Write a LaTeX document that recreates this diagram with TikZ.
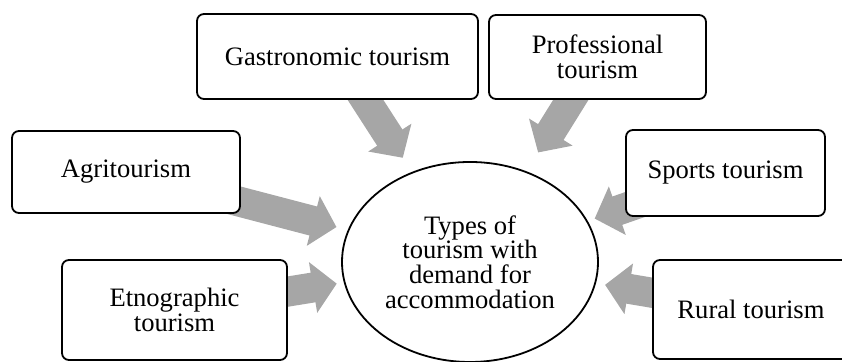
\documentclass[tikz,border=0pt]{standalone}
\usepackage{fontspec}
\setmainfont{Liberation Serif}
\usetikzlibrary{shapes.geometric,arrows.meta,backgrounds}
\definecolor{arrowgray}{HTML}{A6A6A6}

\begin{document}
\begin{tikzpicture}[x=0.5pt,y=-0.5pt]
		\tikzstyle{every node}=[font=\fontsize{13.3}{12.3}\selectfont, align=center]
		\tikzstyle{box}=[draw, line width=0.9pt, rounded corners=3.5pt, fill=white]
		\tikzstyle{bigarrow}=[color=arrowgray, line width=15pt, -{Triangle[width=25pt,length=12pt]}]
		\useasboundingbox (0,0) rectangle (842,362);
		\node (Hub)[ellipse, draw, line width=0.9pt, inner sep=0pt, minimum width=128pt, minimum height=100pt] at (470,262) {Types of\\tourism with\\demand for\\accommodation};
		\node (Gastro)[box, minimum width=140.5pt, minimum height=42.5pt] at (337.5,56.5) {Gastronomic tourism};
		\node (Prof)[box, minimum width=108.5pt, minimum height=42pt] at (597.5,57) {Professional\\tourism};
		\node (Agri)[box, minimum width=114pt, minimum height=41pt] at (126,172) {Agritourism};
		\node (Sports)[box, minimum width=99.5pt, minimum height=43pt] at (725.5,173) {Sports tourism};
		\node (Etno)[box, minimum width=112.5pt, minimum height=50pt] at (174.5,310) {Etnographic\\tourism};
		\node (Rural)[box, minimum width=98pt, minimum height=49.5pt] at (751,309.5) {Rural tourism};
		\begin{scope}[on background layer]
			\draw[bigarrow, shorten >=62pt] (Gastro.center) -- (Hub.center);
			\draw[bigarrow, shorten >=64.5pt] (Prof.center) -- (Hub.center);
			\draw[bigarrow, shorten >=69pt] (Agri.center) -- (Hub.center);
			\draw[bigarrow, shorten >=67.5pt] (Etno.center) -- (Hub.center);
			\draw[bigarrow, shorten >=66pt] (Sports.center) -- (Hub.center);
			\draw[bigarrow, shorten >=68.5pt] (Rural.center) -- (Hub.center);
		\end{scope}
\end{tikzpicture}
\end{document}
